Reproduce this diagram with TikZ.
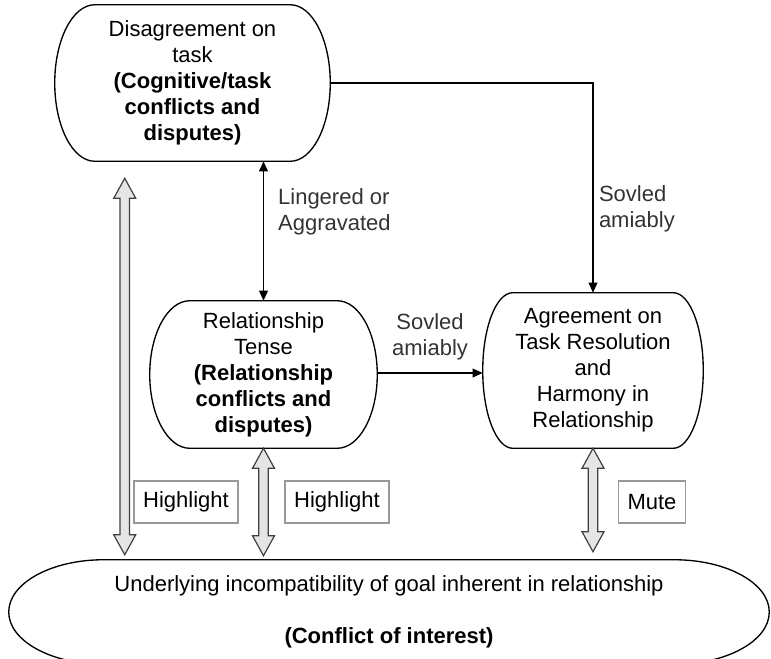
\documentclass[tikz,border=0pt]{standalone}
\usepackage{fontspec}
\setmainfont{Liberation Sans}
\usetikzlibrary{calc,arrows.meta}

% outline with bulging sides, #2 = bulge in px
\newcommand\capsuleoutline[2]{%
  \draw[outline] let \p1=(#1.north west), \p2=(#1.south east),
    \n1={(\y1-\y2)/2}, \n2={#2*0.75pt} in
    (\x1+\n2,\y1) -- (\x2-\n2,\y1)
    arc[start angle=90,end angle=-90,x radius=\n2,y radius=\n1]
    -- (\x1+\n2,\y2)
    arc[start angle=270,end angle=90,x radius=\n2,y radius=\n1] -- cycle;}

% grey double block arrow, upper end #1, lower end #2
\newcommand\blockarrow[2]{%
  \draw[blockarrow] let \p1=#1, \p2=#2 in
    (\x1,\y1) -- (\x1+8.25pt,\y1-15pt) -- (\x1+3.6pt,\y1-15pt) -- (\x1+3.6pt,\y2+15pt)
    -- (\x1+8.25pt,\y2+15pt) -- (\x1,\y2) -- (\x1-8.25pt,\y2+15pt) -- (\x1-3.6pt,\y2+15pt)
    -- (\x1-3.6pt,\y1-15pt) -- (\x1-8.25pt,\y1-15pt) -- cycle;}

\begin{document}
\begin{tikzpicture}[x=0.75pt,y=-0.75pt,font=\fontsize{16.5}{19.5}\selectfont,
  stage/.style={align=center,inner sep=0pt},
  outline/.style={line width=1pt},
  flow/.style={-{Triangle[length=7.5pt,width=6.5pt]},line width=1pt},
  twoway/.style={{Triangle[length=7.5pt,width=6.5pt]}-{Triangle[length=7.5pt,width=6.5pt]},line width=1pt},
  blockarrow/.style={draw=black!75,fill=black!10,line width=0.9pt},
  tag/.style={draw=black!40,line width=1.1pt,fill=white,minimum height=31.5pt,inner sep=0pt},
  edgetext/.style={text=black!80,align=left,inner sep=0pt}]
  \clip (0,0) rectangle (771,658);

  \node[stage,minimum width=206.25pt,minimum height=117pt] (task) at (192.5,83) {Disagreement on\\task\\\textbf{(Cognitive/task}\\\textbf{conflicts and}\\\textbf{disputes)}};
  \node[stage,minimum width=170.25pt,minimum height=110.25pt] (rel) at ($ (task) + (71,291.5) $) {Relationship\\Tense\\\textbf{(Relationship}\\\textbf{conflicts and}\\\textbf{disputes)}};
  \node[stage,minimum width=165pt,minimum height=116.25pt] (agree) at ($ (task) + (400.5,287.5) $) {Agreement on\\Task Resolution\\and\\Harmony in\\Relationship};
  \node[stage,minimum width=570pt,minimum height=78pt] (base) at ($ (task) + (196.5,529) $) {Underlying incompatibility of goal inherent in relationship\\[19.5pt]\textbf{(Conflict of interest)}};

  \capsuleoutline{task}{40}
  \capsuleoutline{rel}{40}
  \capsuleoutline{agree}{30}
  \capsuleoutline{base}{95}

  \draw[twoway] (rel.north |- task.south) -- (rel.north) node[edgetext,right=10.5pt,pos=0.36] {Lingered or\\Aggravated};
  \draw[flow] (task.east) -| (agree.north) node[edgetext,right=4pt,pos=0.8] {Sovled\\amiably};
  \draw[flow] (rel.east |- 0,373) -- (agree.west |- 0,373) node[edgetext,align=center,above=9pt,midway] {Sovled\\amiably};

  \coordinate (conflict top) at ($ (task.south west) + (70,17) $);
  \blockarrow{(conflict top)}{($ (conflict top |- base.north) + (0,-5) $)}
  \blockarrow{(rel.south)}{($ (rel.south |- base.north) + (0,-4) $)}
  \blockarrow{(agree.south)}{($ (agree.south |- base.north) + (0,-8) $)}

  \node[tag,minimum width=78pt] (highlight task) at ($ (rel) + (-77.5,127.5) $) {Highlight};
  \node[tag,minimum width=78pt] (highlight rel) at ($ (rel) + (73.5,127.5) $) {Highlight};
  \node[tag,minimum width=50pt] (mute) at ($ (agree) + (59,131.5) $) {Mute};
\end{tikzpicture}
\end{document}
